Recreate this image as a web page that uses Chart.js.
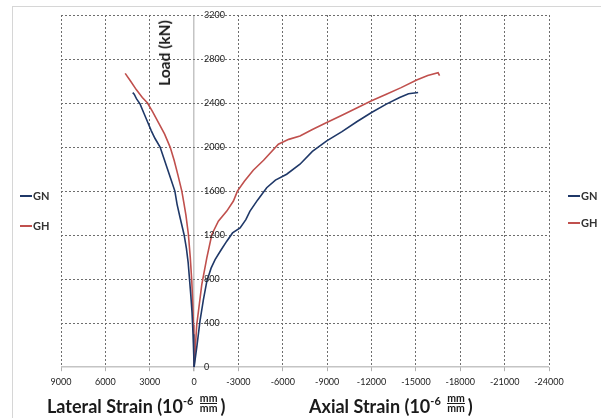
<!DOCTYPE html>
<html>
<head>
<meta charset="utf-8">
<script src="https://cdn.jsdelivr.net/npm/chart.js@4/dist/chart.umd.min.js"></script>
<style>
  body { margin: 0; background: #fff; overflow: hidden; }
  #wrap { position: relative; width: 601px; height: 418px; font-family: Lato, 'Open Sans', sans-serif; color: #1a1a1a; }
  #frame { position: absolute; left: 12px; top: 6px; width: 640px; height: 440px; border: 1.5px solid #d6d6d6; box-sizing: border-box; }
  canvas { position: absolute; left: 0; top: 0; }
  .ttl { position: absolute; font-weight: bold; font-size: 18px; white-space: nowrap; line-height: 20px; }
  .ttl sup { font-size: 11px; position: relative; top: -1px; }
  .frac { display: inline-block; vertical-align: 1px; text-align: center; font-size: 10.5px; line-height: 9px; margin: 0 3px 0 2px; }
  .frac span { display: block; }
  .frac .den { border-top: 1px solid #1a1a1a; }
  #load { position: absolute; left: 163.5px; top: 53px; transform: translate(-50%, -50%) rotate(-90deg); font-weight: bold; font-size: 15.5px; white-space: nowrap; }
  .leg { position: absolute; font-weight: bold; font-size: 11px; line-height: 12px; white-space: nowrap; color: #333; }
  .leg i { display: inline-block; width: 12px; height: 2px; vertical-align: 3px; margin-right: 1px; }
</style>
</head>
<body>
<div id="wrap">
  <div id="frame"></div>
  <canvas id="strainChart" width="601" height="418"></canvas>
  <div id="load">Load (kN)</div>
  <div class="ttl" style="left:47px; top:392px">Lateral Strain (10<sup>-6</sup> <span class="frac"><span>mm</span><span class="den">mm</span></span>)</div>
  <div class="ttl" style="left:309px; top:392px">Axial Strain (10<sup>-6</sup> <span class="frac"><span>mm</span><span class="den">mm</span></span>)</div>
  <div class="leg" style="left:20px; top:190px"><i style="background:#1f3868"></i>GN</div>
  <div class="leg" style="left:20px; top:220px"><i style="background:#c0504d"></i>GH</div>
  <div class="leg" style="left:568px; top:190px"><i style="background:#1f3868"></i>GN</div>
  <div class="leg" style="left:568px; top:217px"><i style="background:#c0504d"></i>GH</div>
</div>
<script>
  const xTicks = [9000, 6000, 3000, 0, -3000, -6000, -9000, -12000, -15000, -18000, -21000, -24000];
  const yTicks = [0, 400, 800, 1200, 1600, 2000, 2400, 2800, 3200];

  // GN lateral (positive strain) and axial (negative strain)
  const gnLatStrain = [4150, 4050, 3900, 3650, 3400, 3150, 2900, 2650, 2300, 2050, 1800, 1550, 1300, 1150, 950, 680, 520, 400, 310, 220, 140, 70, 25, 0];
  const gnLatLoad   = [2495, 2480, 2440, 2390, 2310, 2230, 2150, 2080, 2000, 1900, 1800, 1700, 1600, 1480, 1360, 1206, 1080, 950, 800, 650, 500, 300, 120, 0];
  const gnAxStrain = [0, -200, -400, -630, -860, -1150, -1420, -1800, -2210, -2600, -3110, -3500, -3780, -4300, -4910, -5500, -6260, -7160, -8000, -8970, -10000, -11000, -12000, -13000, -13900, -14500, -15150];
  const gnAxLoad   = [0, 200, 420, 614, 780, 900, 978, 1060, 1145, 1220, 1266, 1340, 1418, 1520, 1631, 1700, 1753, 1844, 1960, 2056, 2140, 2230, 2314, 2390, 2450, 2485, 2496];

  // GH lateral and axial
  const ghLatStrain = [4660, 4300, 3900, 3500, 3150, 2800, 2400, 2000, 1620, 1350, 1100, 830, 700, 550, 385, 260, 155, 90, 47, 15, 0];
  const ghLatLoad   = [2670, 2600, 2520, 2450, 2400, 2320, 2220, 2120, 2000, 1880, 1750, 1600, 1500, 1380, 1206, 1000, 780, 580, 386, 180, 0];
  const ghAxStrain = [0, -180, -520, -860, -1200, -1640, -2210, -2660, -2930, -3400, -4000, -4700, -5700, -6400, -7160, -8000, -8970, -10000, -11000, -12000, -13000, -14000, -15050, -15800, -16500, -16600];
  const ghAxLoad   = [0, 386, 750, 993, 1206, 1327, 1418, 1510, 1600, 1690, 1790, 1880, 2026, 2070, 2100, 2160, 2223, 2290, 2355, 2420, 2480, 2540, 2609, 2650, 2675, 2650];

  const blue = '#1f3868';
  const red = '#c0504d';

  function pts(xs, ys) {
    return xs.map((x, i) => ({ x: x, y: ys[i] }));
  }
  function line(label, xs, ys, color) {
    return { label: label, data: pts(xs, ys), borderColor: color, backgroundColor: color,
             borderWidth: 1.6, pointRadius: 0, showLine: true, tension: 0 };
  }

  // y tick labels sit just right of the zero-strain line
  const loadLabels = {
    id: 'loadLabels',
    afterDraw(chart) {
      const c = chart.ctx, xs = chart.scales.x, ys = chart.scales.y;
      const x0 = xs.getPixelForValue(0) + 10;
      c.save();
      c.font = '9px Lato';
      c.fillStyle = '#222';
      c.textAlign = 'left';
      c.textBaseline = 'middle';
      yTicks.forEach(v => c.fillText(String(v), x0, ys.getPixelForValue(v)));
      c.restore();
    }
  };

  Chart.defaults.font.family = 'Lato';

  const ctx1 = document.getElementById('strainChart').getContext('2d');
  const strainChart = new Chart(ctx1, {
    type: 'scatter',
    data: {
      datasets: [
        line('GN', gnLatStrain, gnLatLoad, blue),
        line('GN', gnAxStrain, gnAxLoad, blue),
        line('GH', ghLatStrain, ghLatLoad, red),
        line('GH', ghAxStrain, ghAxLoad, red)
      ]
    },
    options: {
      responsive: false,
      animation: false,
      layout: { padding: { left: 61, right: 52, top: 15, bottom: 26 } },
      plugins: { legend: { display: false }, tooltip: { enabled: false } },
      scales: {
        x: {
          type: 'linear',
          reverse: true,
          min: -24000,
          max: 9000,
          afterBuildTicks: s => { s.ticks = xTicks.map(v => ({ value: v })); },
          ticks: { font: { size: 9 }, color: '#222', padding: 5, maxRotation: 0, callback: v => String(v) },
          grid: {
            color: c => (c.tick && c.tick.value === 0) ? '#c4c4c4' : '#6e6e6e',
            lineWidth: c => (c.tick && c.tick.value === 0) ? 1.5 : 1,
            drawTicks: true, tickLength: 4, tickColor: '#b0b0b0'
          },
          border: { display: false, dash: c => (c.tick && c.tick.value === 0) ? [] : [2, 2] }
        },
        y: {
          min: 0,
          max: 3200,
          afterBuildTicks: s => { s.ticks = yTicks.map(v => ({ value: v })); },
          ticks: { display: false },
          grid: {
            color: c => (c.tick && c.tick.value === 0) ? '#c4c4c4' : '#6e6e6e',
            lineWidth: c => (c.tick && c.tick.value === 0) ? 1.5 : 1,
            drawTicks: false
          },
          border: { display: false, dash: c => (c.tick && c.tick.value === 0) ? [] : [2, 2] }
        }
      }
    },
    plugins: [loadLabels]
  });
</script>
</body>
</html>
